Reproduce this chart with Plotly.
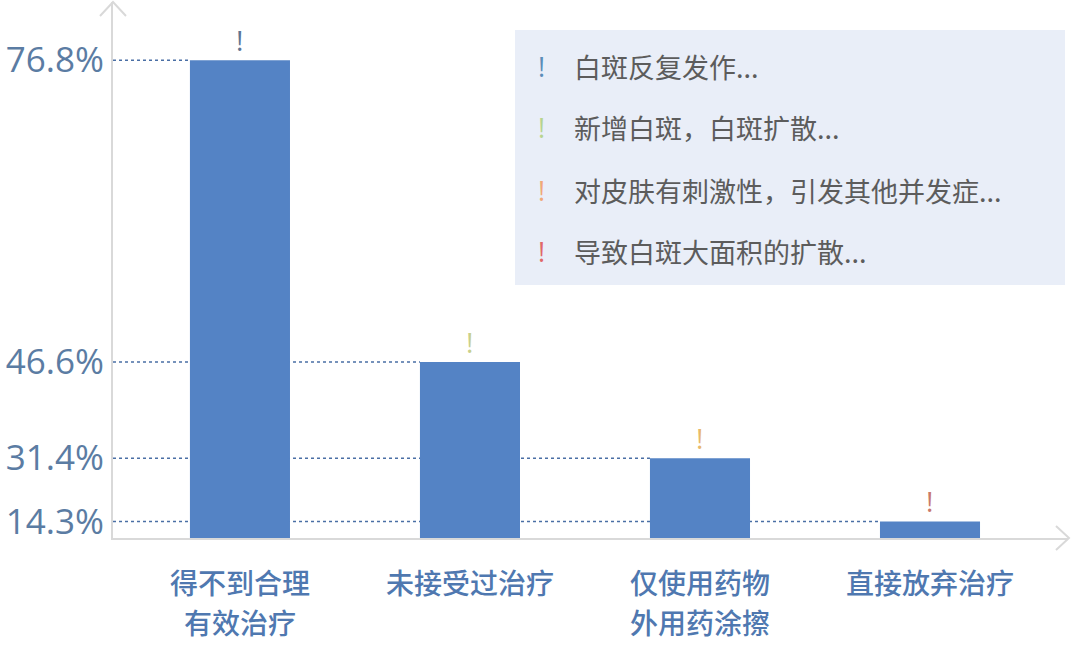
import plotly.graph_objects as go

# ---- data ----
categories = ["得不到合理\n有效治疗", "未接受过治疗", "仅使用药物\n外用药涂擦", "直接放弃治疗"]
values = [76.8, 46.6, 31.4, 14.3]
tick_labels = ["76.8%", "46.6%", "31.4%", "14.3%"]
mark_colors = ["#5d7593", "#c8d08c", "#e8b96c", "#c97a6b"]
legend_texts = ["白斑反复发作...", "新增白斑，白斑扩散...", "对皮肤有刺激性，引发其他并发症...", "导致白斑大面积的扩散..."]
legend_colors = ["#5b8db8", "#b7d48f", "#f0a878", "#e06868"]

# ---- layout geometry (screen pixels) ----
W, H = 1080, 645
ML, MR, MT, MB = 113, 12, 2, 107
PW, PH = W - ML - MR, H - MT - MB
XR = [-0.552, 3.6]
YMAX = 6617
BAR_W = 0.435


def px2x(px):
    return (px - ML) / PW


def px2y(py):
    return (H - MB - py) / PH


# power scale (exponent 2) as used by the original chart
yv = [v ** 2 for v in values]
xs = list(range(len(values)))

fig = go.Figure()
fig.add_trace(go.Bar(x=xs, y=yv, width=BAR_W, marker=dict(color="#5483c5", line=dict(width=0)),
                     hoverinfo="skip"))

shapes = []
for i, y in enumerate(yv):
    shapes.append(dict(type="line", xref="x", yref="y", x0=XR[0], x1=i - BAR_W / 2, y0=y, y1=y,
                       line=dict(color="#4a6fa5", width=1.5, dash="dot"), layer="below"))

axc = "#d9d9d9"
shapes.append(dict(type="path", xref="paper", yref="paper",
                   path=f"M {px2x(100)} {px2y(16)} L {px2x(113)} {px2y(2)} L {px2x(126)} {px2y(16)}",
                   line=dict(color=axc, width=2)))
shapes.append(dict(type="path", xref="paper", yref="paper",
                   path=f"M {px2x(1056)} {px2y(526)} L {px2x(1069)} {px2y(538)} L {px2x(1056)} {px2y(550)}",
                   line=dict(color=axc, width=2)))
shapes.append(dict(type="rect", xref="paper", yref="paper", x0=px2x(515), x1=px2x(1065),
                   y0=px2y(285), y1=px2y(30), fillcolor="#e9eef8", line=dict(width=0), layer="below"))

annotations = []
for i, (y, c) in enumerate(zip(yv, mark_colors)):
    annotations.append(dict(x=i, y=y, xref="x", yref="y", text="!", showarrow=False,
                            yanchor="bottom", yshift=-1,
                            font=dict(family="Open Sans", size=28, color=c)))
for i, cat in enumerate(categories):
    for j, line in enumerate(cat.split("\n")):
        annotations.append(dict(x=i, y=px2y(582 + 40 * j), xref="x", yref="paper", text=line,
                                showarrow=False, yanchor="middle", xanchor="center",
                                font=dict(family="Noto Sans CJK SC", size=28, color="#4f78b0", weight=500)))
for k, (t, c) in enumerate(zip(legend_texts, legend_colors)):
    py = 66 + 62 * k
    annotations.append(dict(x=px2x(541), y=px2y(py), xref="paper", yref="paper", text="!",
                            showarrow=False, xanchor="center", yanchor="middle",
                            font=dict(family="Open Sans", size=27, color=c)))
    annotations.append(dict(x=px2x(572), y=px2y(py), xref="paper", yref="paper", text=t,
                            showarrow=False, xanchor="left", yanchor="middle",
                            font=dict(family="Noto Sans CJK SC", size=27, color="#5c5c5c")))

fig.update_layout(
    width=W, height=H,
    margin=dict(l=ML, r=MR, t=MT, b=MB, pad=0),
    paper_bgcolor="white", plot_bgcolor="white",
    showlegend=False,
    shapes=shapes, annotations=annotations,
    xaxis=dict(range=XR, showgrid=False, zeroline=False, showticklabels=False,
               showline=True, linecolor=axc, linewidth=2, fixedrange=True),
    yaxis=dict(range=[0, YMAX], showgrid=False, zeroline=False,
               tickvals=yv, ticktext=tick_labels, ticks="",
               tickfont=dict(family="Open Sans", size=35, color="#5b7ca3"),
               showline=True, linecolor=axc, linewidth=2, fixedrange=True),
)

fig.write_html("out.html", config={"displayModeBar": False},
               post_script="document.body.style.margin='0';document.body.style.overflow='hidden';")
